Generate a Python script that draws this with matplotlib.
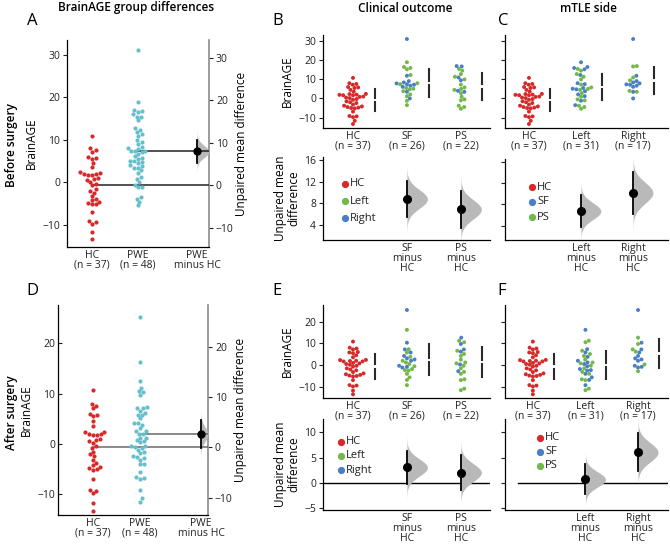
import numpy as np
import matplotlib.pyplot as plt

plt.rcParams['font.family'] = ['Open Sans', 'DejaVu Sans']
plt.rcParams['font.size'] = 7.5
plt.rcParams['axes.linewidth'] = 0.9
plt.rcParams['xtick.color'] = '#222222'
plt.rcParams['ytick.color'] = '#222222'

W, H = 670, 548

# --- BrainAGE values ---

hc = [10.8, 8.0, 7.6, 7.2, 6.0, 5.8, 5.5, 4.5, 3.6, 2.4, 2.3, 2.0, 1.9, 1.7, 1.7,
      1.0, 0.8, 0.5, 0.2, -0.3, -0.7, -1.5, -2.0, -2.4, -3.2, -3.8, -4.2, -4.5,
      -4.8, -5.0, -5.2, -6.9, -9.2, -9.4, -9.8, -11.7, -13.4]

# before surgery: outcome (SF / PS) x side (left / right)
pre_sf_left = [19.0, 16.5, 16.0, 15.3, 12.3, 8.0, 7.5, 5.5, 5.1, 4.8, 3.8, 2.1, 1.2, -1.2, -3.5]
pre_sf_right = [31.2, 11.9, 9.1, 8.4, 7.9, 7.4, 7.2, 6.7, 6.1, 3.5, 0.0]
pre_ps_left = [15.5, 14.6, 12.8, 11.4, 10.0, 7.3, 5.8, 5.0, 4.5, 2.8, 0.9, -0.5, -1.0,
               -3.8, -4.5, -5.4]
pre_ps_right = [17.0, 16.8, 11.0, 9.5, 4.0, 3.5]

# after surgery
post_sf_left = [16.2, 7.3, 5.8, 3.8, 2.0, 1.2, 0.5, -0.5, -1.8, -2.3, -2.5, -4.0, -5.6,
                -6.8, -9.2]
post_sf_right = [25.3, 10.3, 7.2, 5.8, 4.2, 3.1, 2.6, 2.0, -0.3, -0.8, -1.1]
post_ps_left = [11.2, 10.5, 6.6, 5.1, 4.2, 2.5, 1.2, 0.8, -0.3, -1.5, -3.1, -4.0, -6.5,
                -6.9, -10.8, -11.5]
post_ps_right = [12.6, 9.7, 7.2, 6.2, 0.3, -2.8]

outcome_labels = ['HC', 'SF', 'PS']
side_labels = ['HC', 'Left', 'Right']
outcome_diff_labels = ['SF\nminus\nHC', 'PS\nminus\nHC']
side_diff_labels = ['Left\nminus\nHC', 'Right\nminus\nHC']

RED = '#d62a2a'
CYAN = '#66c0cc'
GREEN = '#72b84a'
BLUE = '#4a7fc8'
VIOLIN = '#b9b9b9'

fig = plt.figure(figsize=(W / 100, H / 100), dpi=100)


def px_axes(l, t, r, b):
    ax = fig.add_axes([l / W, 1 - b / H, (r - l) / W, (b - t) / H])
    ax.set_facecolor('none')
    return ax


def swarm(ax, x0, ys, gap=4.0):
    ys = np.asarray(ys, float)
    pts = ax.transData.transform(np.column_stack([np.full(len(ys), x0), ys]))
    offs = np.zeros(len(ys))
    placed = []
    for i in np.argsort(ys):
        py = pts[i, 1]
        cands = [0.0]
        for qx, qy in placed:
            dy = py - qy
            if abs(dy) < gap:
                dx = np.sqrt(gap ** 2 - dy ** 2)
                cands += [qx + dx, qx - dx]
        cands.sort(key=abs)
        for c in cands:
            if all((c - qx) ** 2 + (py - qy) ** 2 >= gap ** 2 - 1e-6 for qx, qy in placed):
                offs[i] = c
                break
        placed.append((offs[i], py))
    disp = np.column_stack([pts[:, 0] + offs, pts[:, 1]])
    return ax.transData.inverted().transform(disp)[:, 0]


def mean_diff(a, b):
    a, b = np.asarray(a, float), np.asarray(b, float)
    se = np.sqrt(a.var(ddof=1) / len(a) + b.var(ddof=1) / len(b))
    return a.mean() - b.mean(), se


def half_violin(ax, x0, center, se, width):
    y = np.linspace(center - 3.6 * se, center + 3.6 * se, 200)
    d = np.exp(-0.5 * ((y - center) / se) ** 2)
    ax.fill_betweenx(y, x0, x0 + width * d, color=VIOLIN, lw=0, zorder=1)


def effect(ax, x0, d, se, width, ms=5):
    half_violin(ax, x0, d, se, width)
    ax.plot([x0, x0], [d - 1.96 * se, d + 1.96 * se], color='k', lw=1.3, zorder=3)
    ax.plot(x0, d, 'o', color='k', ms=ms, zorder=4)


def style(ax):
    ax.spines['top'].set_visible(False)
    ax.spines['right'].set_visible(False)
    ax.tick_params(length=3, width=0.8, pad=2)


def set_xlabels(ax, ticks, labels):
    ax.set_xticks(ticks)
    ax.set_xticklabels(labels, linespacing=0.9)
    ax.tick_params(axis='x', length=0, pad=2)


def legend(x, y, step, labels, colors):
    for j, (lab, col) in enumerate(zip(labels, colors)):
        yy = 1 - (y + j * step) / H
        fig.add_artist(plt.Line2D([x / W], [yy], marker='o', ms=4.2, color=col, lw=0))
        fig.text((x + 5) / W, yy, lab, va='center', ha='left', fontsize=8, color='#222222')


# --- Gardner-Altman panels (A, D) ---

def gardner(box, pwe, xlim, ylim, yticks, diff_x, line_col, tick_dir):
    ax = px_axes(*box)
    style(ax)
    ax.set_xlim(*xlim)
    ax.set_ylim(*ylim)
    for i, (vals, col) in enumerate([(hc, RED), (pwe, CYAN)]):
        xs = swarm(ax, i, vals, gap=4.1)
        ax.scatter(xs, vals, s=9, color=col, lw=0, zorder=3)
    m0, m1 = np.mean(hc), np.mean(pwe)
    ax.plot([0, xlim[1]], [m0, m0], color=line_col, lw=1.1, zorder=2)
    ax.plot([1, xlim[1]], [m1, m1], color=line_col, lw=1.1, zorder=2)
    d, se = mean_diff(pwe, hc)
    effect(ax, diff_x, m0 + d, se, xlim[1] - diff_x, ms=5)
    set_xlabels(ax, [0, 1, diff_x],
                ['HC\n(n = %d)' % len(hc), 'PWE\n(n = %d)' % len(pwe), 'PWE\nminus HC'])
    ax.set_yticks(yticks)
    ax.tick_params(axis='y', direction=tick_dir)
    ax.set_ylabel('BrainAGE', fontsize=8.5, labelpad=3)
    sec = ax.secondary_yaxis('right', functions=(lambda y: y - m0, lambda y: y + m0))
    sec.set_yticks(yticks)
    sec.spines['right'].set_color('#8a8a8a')
    sec.spines['right'].set_linewidth(1.2)
    sec.tick_params(length=3, width=0.8, pad=2)
    sec.set_ylabel('Unpaired mean difference', fontsize=8.5, labelpad=1)
    return ax


pre_pwe = pre_sf_left + pre_sf_right + pre_ps_left + pre_ps_right
post_pwe = post_sf_left + post_sf_right + post_ps_left + post_ps_right

gardner((67, 40, 209, 247), pre_pwe, (-0.54, 2.54), (-15.2, 33.5),
        [-10, 0, 10, 20, 30], 2.28, '#222222', 'out')
gardner((58, 305, 208, 515), post_pwe, (-0.74, 2.45), (-14.1, 27.6),
        [-10, 0, 10, 20], 2.3, '#6a6a6a', 'in')


# --- Cumming panels (B, C, E, F) ---

def cumming(top_box, bot_box, groups, labels, diff_labels, xlim, ylim_top, yt_top,
            ylim_bot, yt_bot, show_ylabel, zero_from=None):
    ax = px_axes(*top_box)
    style(ax)
    ax.set_xlim(*xlim)
    ax.set_ylim(*ylim_top)
    ppu = ax.transData.transform((0, 1))[1] - ax.transData.transform((0, 0))[1]
    g = 2.2 / ppu
    pooled = []
    for i, parts in enumerate(groups):
        vals = np.concatenate([np.asarray(p[0], float) for p in parts])
        cols = [p[1] for p in parts for _ in p[0]]
        xs = swarm(ax, i, vals, gap=3.7)
        ax.scatter(xs, vals, s=8, c=cols, lw=0, zorder=3)
        m, sd = vals.mean(), vals.std(ddof=1)
        bx = i + 0.4
        ax.plot([bx, bx], [m - sd, m - g], color='#2a2a2a', lw=1.5)
        ax.plot([bx, bx], [m + g, m + sd], color='#2a2a2a', lw=1.5)
        pooled.append(vals)
    set_xlabels(ax, range(len(groups)),
                ['%s\n(n = %d)' % (lab, len(v)) for lab, v in zip(labels, pooled)])
    ax.set_yticks(yt_top)
    if show_ylabel:
        ax.set_ylabel('BrainAGE', fontsize=8.5, labelpad=3)
    else:
        ax.set_yticklabels([])

    bx_ax = px_axes(*bot_box)
    style(bx_ax)
    bx_ax.set_xlim(*xlim)
    bx_ax.set_ylim(*ylim_bot)
    if zero_from is not None:
        bx_ax.plot([zero_from, xlim[1]], [0, 0], color='k', lw=1.0, zorder=1)
    for i, vals in enumerate(pooled[1:], start=1):
        d, se = mean_diff(vals, pooled[0])
        effect(bx_ax, i, d, se, 0.38, ms=5.5)
    set_xlabels(bx_ax, [1, 2], diff_labels)
    bx_ax.set_yticks(yt_bot)
    if show_ylabel:
        bx_ax.set_ylabel('Unpaired mean\ndifference', fontsize=8.5, labelpad=3, linespacing=1.0)
    else:
        bx_ax.set_yticklabels([])


# B: clinical outcome, before
cumming((323, 35, 490, 128), (323, 157, 490, 240),
        [[(hc, RED)], [(pre_sf_left, GREEN), (pre_sf_right, BLUE)],
         [(pre_ps_left, GREEN), (pre_ps_right, BLUE)]],
        outcome_labels, outcome_diff_labels, (-0.556, 2.54), (-15.5, 33.3),
        [-10, 0, 10, 20, 30], (1.3, 16.5), [4, 8, 12, 16], True)
# C: mTLE side, before
cumming((505, 35, 668, 128), (505, 159, 668, 240),
        [[(hc, RED)], [(pre_sf_left, BLUE), (pre_ps_left, GREEN)],
         [(pre_sf_right, BLUE), (pre_ps_right, GREEN)]],
        side_labels, side_diff_labels, (-0.46, 2.67), (-15.5, 33.3),
        [-10, 0, 10, 20, 30], (1.3, 16.5), [4, 8, 12, 16], False)
# E: clinical outcome, after
cumming((323, 305, 490, 398), (323, 419, 490, 510),
        [[(hc, RED)], [(post_sf_left, GREEN), (post_sf_right, BLUE)],
         [(post_ps_left, GREEN), (post_ps_right, BLUE)]],
        outcome_labels, outcome_diff_labels, (-0.556, 2.54), (-15.1, 27.6),
        [-10, 0, 10, 20], (-5.3, 12.6), [-5, 0, 5, 10], True, zero_from=-0.556)
# F: mTLE side, after
cumming((505, 305, 668, 398), (505, 419, 668, 510),
        [[(hc, RED)], [(post_sf_left, BLUE), (post_ps_left, GREEN)],
         [(post_sf_right, BLUE), (post_ps_right, GREEN)]],
        side_labels, side_diff_labels, (-0.53, 2.57), (-15.1, 27.6),
        [-10, 0, 10, 20], (-5.3, 12.6), [-5, 0, 5, 10], False, zero_from=-0.28)

legend(345, 184, 17, ['HC', 'Left', 'Right'], [RED, GREEN, BLUE])
legend(532, 187, 15, ['HC', 'SF', 'PS'], [RED, BLUE, GREEN])
legend(341, 442, 14, ['HC', 'Left', 'Right'], [RED, GREEN, BLUE])
legend(540, 438, 14, ['HC', 'SF', 'PS'], [RED, BLUE, GREEN])


# --- Titles, row labels and panel letters ---

def ftext(x, y, s, **kw):
    fig.text(x / W, 1 - y / H, s, **kw)


ftext(136, 8, 'BrainAGE group differences', ha='center', va='center', fontsize=8.5,
      fontweight='semibold')
ftext(405, 8, 'Clinical outcome', ha='center', va='center', fontsize=8.5,
      fontweight='semibold')
ftext(588, 8, 'mTLE side', ha='center', va='center', fontsize=8.5, fontweight='semibold')
ftext(12, 145, 'Before surgery', rotation=90, ha='center', va='center', fontsize=8.5,
      fontweight='semibold')
ftext(12, 413, 'After surgery', rotation=90, ha='center', va='center', fontsize=8.5,
      fontweight='semibold')
for letter, x, y in [('A', 32, 21), ('B', 278, 21), ('C', 503, 21),
                     ('D', 32, 291), ('E', 277, 291), ('F', 502, 291)]:
    ftext(x, y, letter, ha='center', va='center', fontsize=12)

fig.savefig('out.png', dpi=100)
